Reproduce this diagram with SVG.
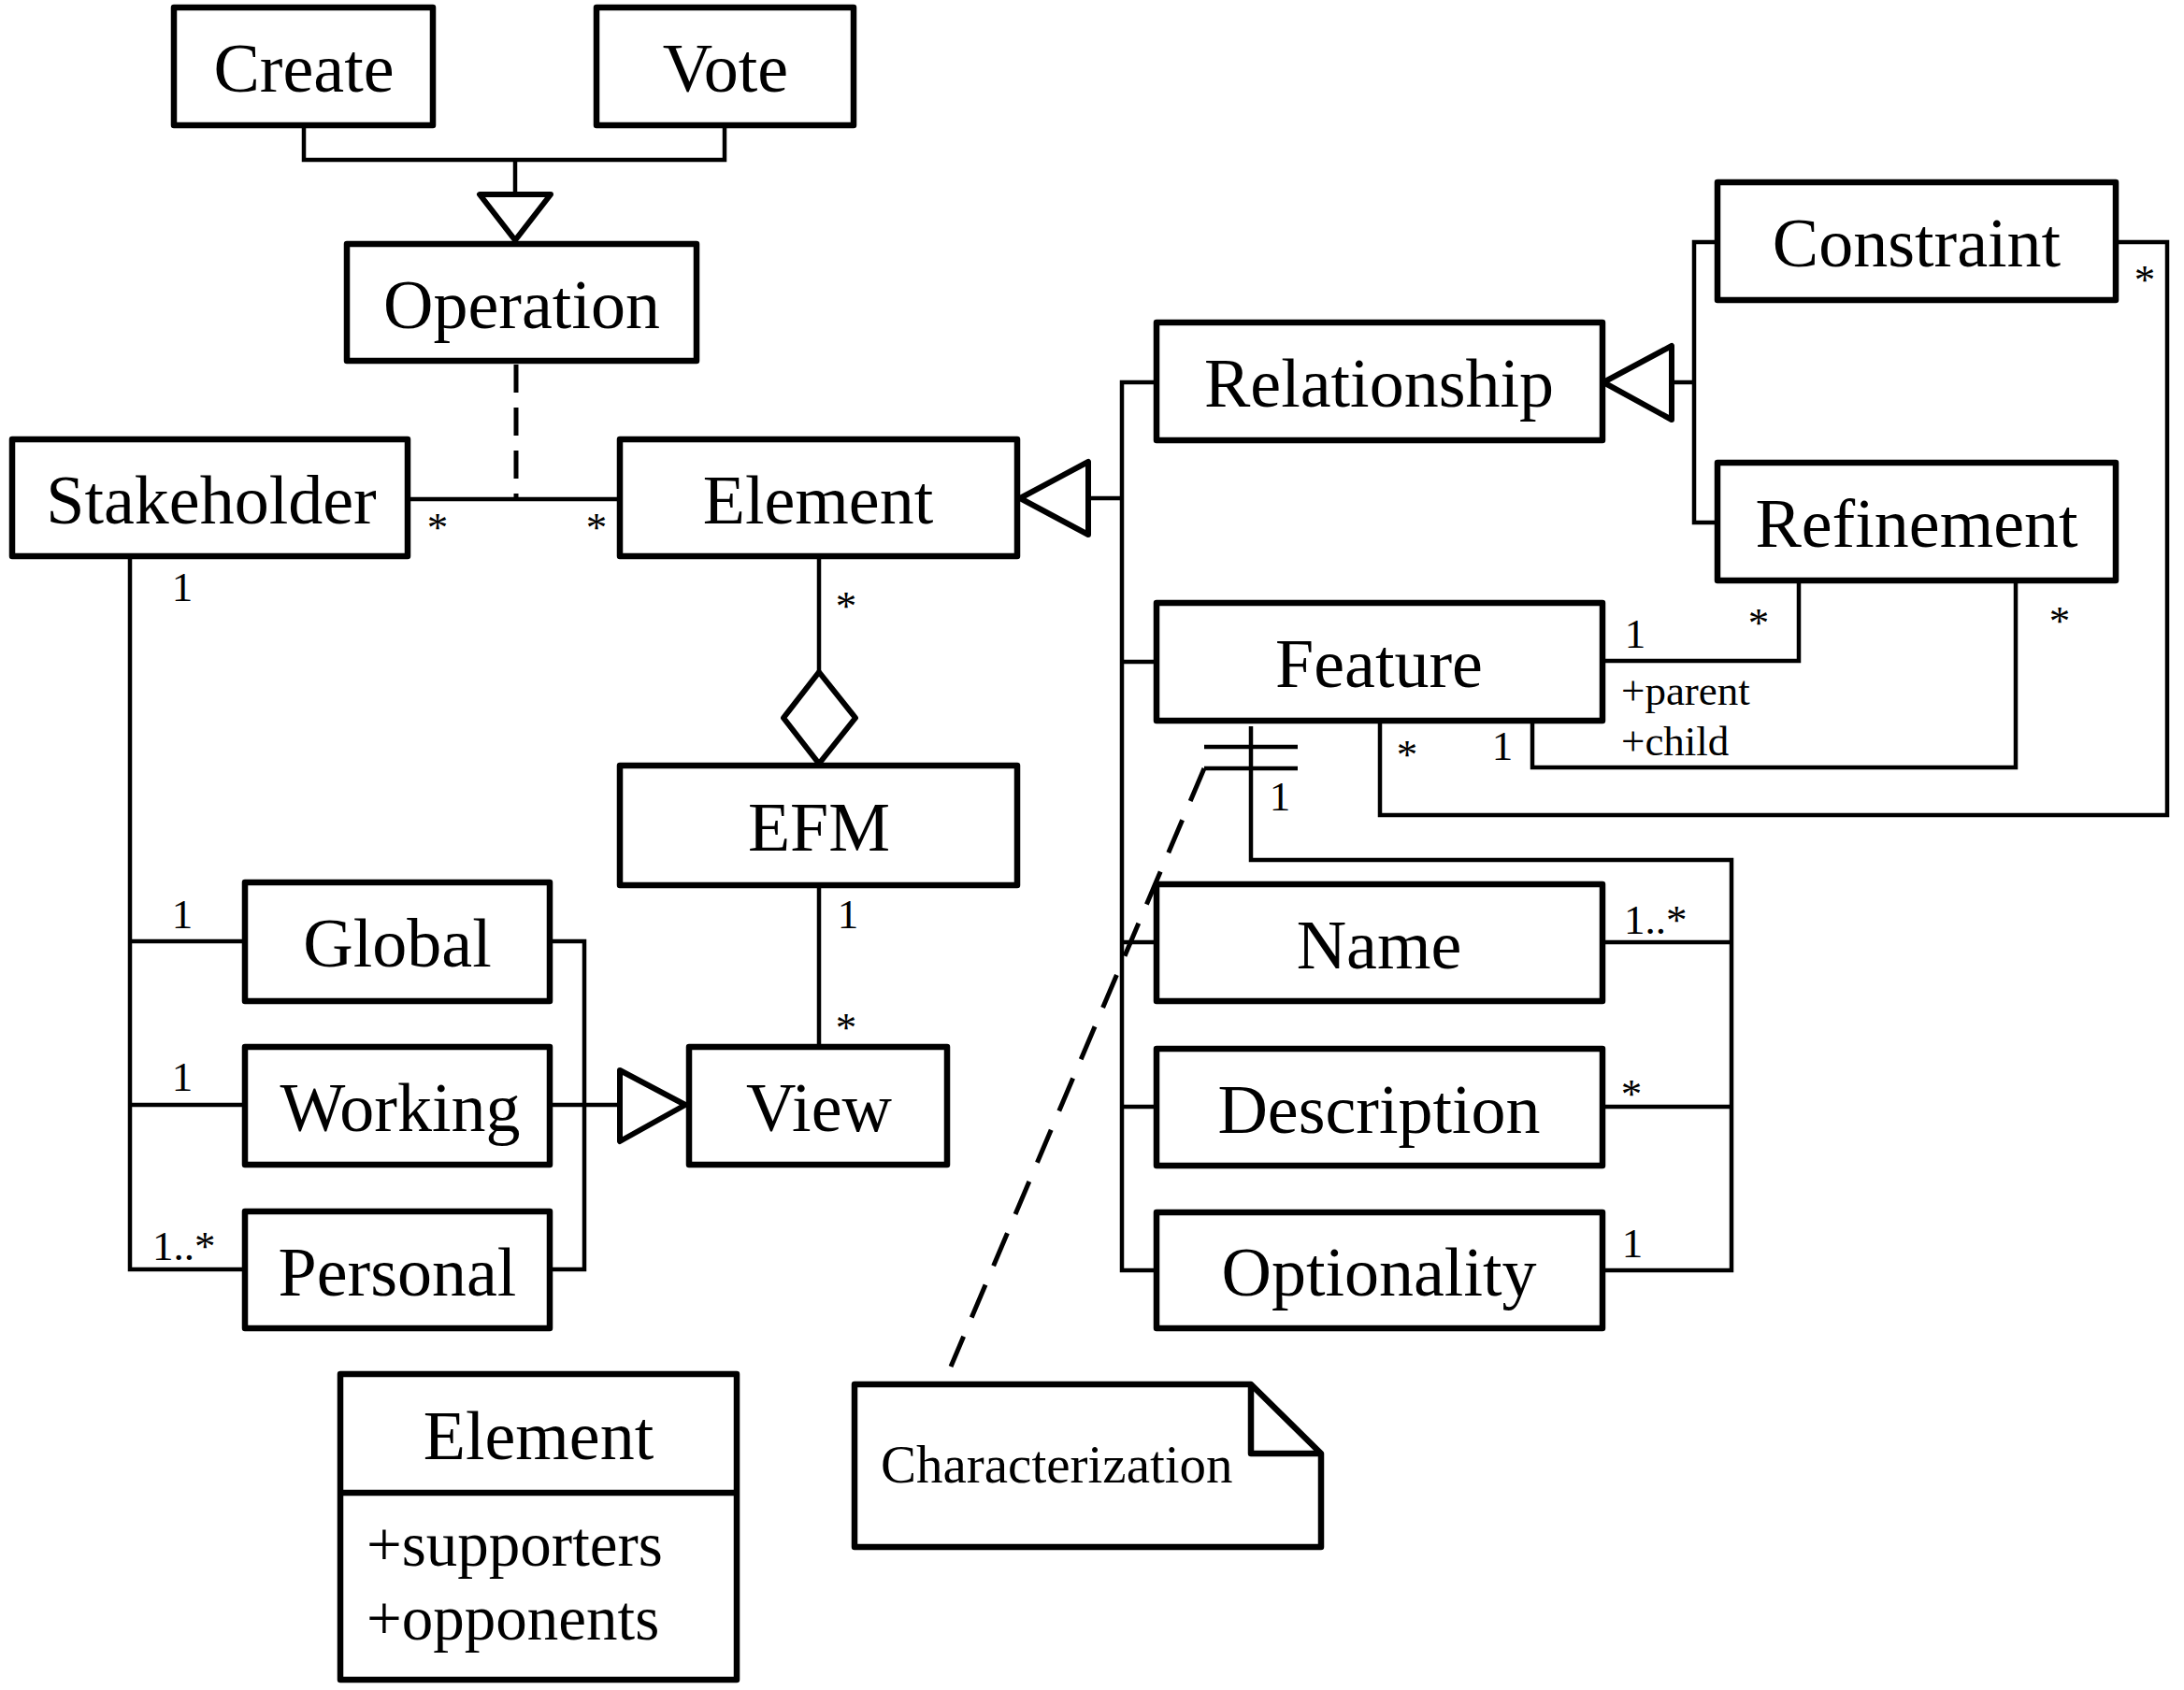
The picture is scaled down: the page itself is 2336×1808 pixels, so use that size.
<svg xmlns="http://www.w3.org/2000/svg" width="2336" height="1808" viewBox="0 0 2336 1808">
<style>
.box{fill:#fff;stroke:#000;stroke-width:6.5;stroke-linejoin:round}
.t{font-family:"Liberation Serif","Times New Roman",serif;font-size:74px;text-anchor:middle;fill:#000}
.s{font-family:"Liberation Serif","Times New Roman",serif;font-size:45px;fill:#000}
.sm{text-anchor:middle}
.ln{fill:none;stroke:#000;stroke-width:4.5;stroke-linejoin:miter}
.tri{fill:#fff;stroke:#000;stroke-width:6;stroke-linejoin:round}
.dash{fill:none;stroke:#000;stroke-width:5}
</style>
<rect width="2336" height="1808" fill="#fff"/>
<g id="connectors">
  <polyline class="ln" points="325,134 325,171 775,171 775,134"/>
  <line class="ln" x1="551" y1="171" x2="551" y2="208"/>
  <polygon class="tri" points="513,208 589,208 551,257"/>
  <line class="ln" x1="436" y1="534" x2="663" y2="534"/>
  <line class="dash" x1="552" y1="390" x2="552" y2="534" stroke-dasharray="30 16"/>
  <line class="ln" x1="876" y1="595" x2="876" y2="719"/>
  <polygon class="tri" points="876,719 915,768 876,817 838,768"/>
  <line class="ln" x1="876" y1="947" x2="876" y2="1120"/>
  <polyline class="ln" points="139,595 139,1358 262,1358"/>
  <line class="ln" x1="139" y1="1007" x2="262" y2="1007"/>
  <line class="ln" x1="139" y1="1182" x2="262" y2="1182"/>
  <polyline class="ln" points="588,1007 625,1007 625,1358 588,1358"/>
  <line class="ln" x1="588" y1="1182" x2="663" y2="1182"/>
  <polygon class="tri" points="663,1145 733,1182 663,1221"/>
  <polygon class="tri" points="1091,533 1164,494 1164,572"/>
  <line class="ln" x1="1164" y1="533" x2="1200" y2="533"/>
  <polyline class="ln" points="1237,409 1200,409 1200,1359 1237,1359"/>
  <line class="ln" x1="1200" y1="708" x2="1237" y2="708"/>
  <line class="ln" x1="1200" y1="1008" x2="1237" y2="1008"/>
  <line class="ln" x1="1200" y1="1184" x2="1237" y2="1184"/>
  <polygon class="tri" points="1715,409 1788,370 1788,449"/>
  <line class="ln" x1="1788" y1="409" x2="1812" y2="409"/>
  <polyline class="ln" points="1837,259 1812,259 1812,559 1837,559"/>
  <polyline class="ln" points="1714,707 1924,707 1924,621"/>
  <polyline class="ln" points="1639,771 1639,821 2156,821 2156,621"/>
  <polyline class="ln" points="2263,259 2318,259 2318,872 1476,872 1476,771"/>
  <polyline class="ln" points="1338,777 1338,920 1852,920 1852,1359 1714,1359"/>
  <line class="ln" x1="1714" y1="1008" x2="1852" y2="1008"/>
  <line class="ln" x1="1714" y1="1184" x2="1852" y2="1184"/>
  <line class="ln" x1="1288" y1="799" x2="1388" y2="799"/>
  <line class="ln" x1="1288" y1="822" x2="1388" y2="822"/>
  <line class="dash" x1="1288" y1="822" x2="1017" y2="1462" stroke-dasharray="38 22"/>
  <text class="s sm" x="468" y="579">*</text>
  <text class="s sm" x="638" y="579">*</text>
  <text class="s sm" x="905" y="663">*</text>
  <text class="s sm" x="905" y="1114">*</text>
  <text class="s sm" x="907" y="993">1</text>
  <text class="s sm" x="195" y="643">1</text>
  <text class="s sm" x="195" y="993">1</text>
  <text class="s sm" x="195" y="1167">1</text>
  <text class="s" x="163" y="1348">1..*</text>
  <text class="s sm" x="2294" y="314">*</text>
  <text class="s sm" x="1749" y="693">1</text>
  <text class="s sm" x="1881" y="681">*</text>
  <text class="s sm" x="2203" y="679">*</text>
  <text class="s" x="1734" y="754">+parent</text>
  <text class="s" x="1734" y="808">+child</text>
  <text class="s sm" x="1505" y="822">*</text>
  <text class="s sm" x="1607" y="813">1</text>
  <text class="s sm" x="1369" y="867">1</text>
  <text class="s" x="1737" y="999">1..*</text>
  <text class="s sm" x="1745" y="1185">*</text>
  <text class="s sm" x="1746" y="1345">1</text>
</g>
<g id="create"><rect class="box" x="186" y="8" width="277" height="126"/><text class="t" x="325" y="98">Create</text></g>
<g id="vote"><rect class="box" x="638" y="8" width="275" height="126"/><text class="t" x="776" y="98">Vote</text></g>
<g id="operation"><rect class="box" x="371" y="261" width="374" height="125"/><text class="t" x="558" y="351">Operation</text></g>
<g id="stakeholder"><rect class="box" x="13" y="470" width="423" height="125"/><text class="t" x="226" y="560">Stakeholder</text></g>
<g id="element"><rect class="box" x="663" y="470" width="425" height="125"/><text class="t" x="875" y="560">Element</text></g>
<g id="efm"><rect class="box" x="663" y="819" width="425" height="128"/><text class="t" x="876" y="910">EFM</text></g>
<g id="global"><rect class="box" x="262" y="944" width="326" height="127"/><text class="t" x="425" y="1034">Global</text></g>
<g id="working"><rect class="box" x="262" y="1120" width="326" height="126"/><text class="t" x="428" y="1210">Working</text></g>
<g id="personal"><rect class="box" x="262" y="1296" width="326" height="125"/><text class="t" x="425" y="1386">Personal</text></g>
<g id="view"><rect class="box" x="737" y="1120" width="276" height="126"/><text class="t" x="876" y="1210">View</text></g>
<g id="relationship"><rect class="box" x="1237" y="345" width="477" height="126"/><text class="t" x="1475" y="435">Relationship</text></g>
<g id="constraint"><rect class="box" x="1837" y="195" width="426" height="126"/><text class="t" x="2050" y="285">Constraint</text></g>
<g id="refinement"><rect class="box" x="1837" y="495" width="426" height="126"/><text class="t" x="2050" y="585">Refinement</text></g>
<g id="feature"><rect class="box" x="1237" y="645" width="477" height="126"/><text class="t" x="1475" y="735">Feature</text></g>
<g id="name"><rect class="box" x="1237" y="946" width="477" height="125"/><text class="t" x="1475" y="1036">Name</text></g>
<g id="description"><rect class="box" x="1237" y="1122" width="477" height="125"/><text class="t" x="1475" y="1212">Description</text></g>
<g id="optionality"><rect class="box" x="1237" y="1297" width="477" height="124"/><text class="t" x="1475" y="1386">Optionality</text></g>
<g id="element-class">
  <rect class="box" x="364" y="1470" width="424" height="327"/>
  <line class="box" x1="364" y1="1597" x2="788" y2="1597"/>
  <text class="t" x="576" y="1561">Element</text>
  <text class="t" x="392" y="1675" style="text-anchor:start;font-size:67px">+supporters</text>
  <text class="t" x="392" y="1754" style="text-anchor:start;font-size:67px">+opponents</text>
</g>
<g id="note">
  <path class="box" d="M914,1481 L1338,1481 L1413,1555 L1413,1655 L914,1655 Z"/>
  <polyline class="box" points="1338,1481 1338,1555 1413,1555" style="fill:none"/>
  <text class="s" x="942" y="1586" style="font-size:57px">Characterization</text>
</g>
</svg>
